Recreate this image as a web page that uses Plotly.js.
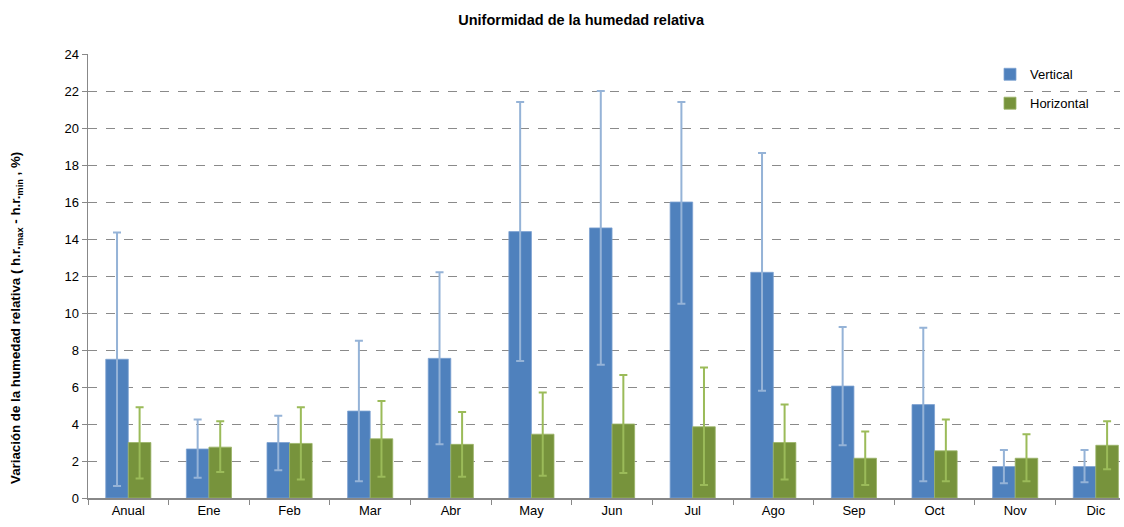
<!DOCTYPE html>
<html>
<head>
<meta charset="utf-8">
<script src="https://cdn.plot.ly/plotly-3.0.1.min.js"></script>
<style>html,body{margin:0;padding:0;background:#fff;}#chart{width:1124px;height:527px;}</style>
</head>
<body>
<div id="chart"></div>
<script>
const categories = ["Anual","Ene","Feb","Mar","Abr","May","Jun","Jul","Ago","Sep","Oct","Nov","Dic"];
const verticalValues = [7.5, 2.65, 3.0, 4.7, 7.55, 14.4, 14.6, 16.0, 12.2, 6.05, 5.05, 1.7, 1.7];
const verticalUpper  = [14.35, 4.25, 4.45, 8.5, 12.2, 21.4, 22.0, 21.4, 18.65, 9.25, 9.2, 2.6, 2.6];
const verticalLower  = [0.65, 1.1, 1.5, 0.9, 2.9, 7.4, 7.2, 10.5, 5.8, 2.85, 0.9, 0.8, 0.85];
const horizontalValues = [3.0, 2.75, 2.95, 3.2, 2.9, 3.45, 4.0, 3.85, 3.0, 2.15, 2.55, 2.15, 2.85];
const horizontalUpper  = [4.9, 4.15, 4.9, 5.25, 4.65, 5.7, 6.65, 7.05, 5.05, 3.6, 4.25, 3.45, 4.15];
const horizontalLower  = [1.05, 1.4, 1.0, 1.15, 1.15, 1.2, 1.35, 0.7, 1.0, 0.7, 0.9, 0.9, 1.55];
const yTitle = "<b>Variación de la humedad relativa ( h.r.<sub>max</sub> - h.r.<sub>min</sub> , %)</b>";

const plus = (u, v) => u.map((x, i) => x - v[i]);
const minus = (l, v) => v.map((x, i) => x - l[i]);

const traces = [
  {
    type: "bar", name: "Vertical", x: categories, y: verticalValues,
    legendgroup: "v",
    marker: {color: "#4F81BD", line: {color: "#7EA2D2", width: 0.8}},
    error_y: {type: "data", symmetric: false, array: plus(verticalUpper, verticalValues),
      arrayminus: minus(verticalLower, verticalValues), color: "#95B3D7", thickness: 2, width: 4}
  },
  {
    type: "bar", name: "Horizontal", x: categories, y: horizontalValues,
    legendgroup: "h",
    marker: {color: "#77933C", line: {color: "#9BB467", width: 0.8}},
    error_y: {type: "data", symmetric: false, array: plus(horizontalUpper, horizontalValues),
      arrayminus: minus(horizontalLower, horizontalValues), color: "#9BBB59", thickness: 2, width: 4}
  }
];

const layout = {
  width: 1124, height: 527,
  margin: {l: 88, r: 4, t: 54, b: 29, pad: 0},
  paper_bgcolor: "#fff", plot_bgcolor: "#fff",
  font: {family: "Liberation Sans, Arial, sans-serif", size: 13, color: "#000"},
  title: {text: "<b>Uniformidad de la humedad relativa</b>", x: 0.517, xref: "container", xanchor: "center",
    y: 0.962, yref: "container", yanchor: "middle", font: {size: 14.5, color: "#000"}},
  barmode: "group", bargap: 0.44, bargroupgap: 0,
  xaxis: {
    type: "category", range: [-0.5, 12.3], tickson: "boundaries",
    ticks: "outside", ticklen: 5, tickcolor: "#888", tickwidth: 1,
    showline: true, linecolor: "#888", linewidth: 1.5,
    showgrid: false, zeroline: false,
    tickfont: {size: 13, color: "#000"}, fixedrange: true
  },
  yaxis: {
    range: [0, 24], dtick: 2, tick0: 0,
    ticks: "outside", ticklen: 5, tickcolor: "#888", tickwidth: 1,
    showline: true, linecolor: "#888", linewidth: 1.5,
    showgrid: true, gridcolor: "#8a8a8a", griddash: "dash", gridwidth: 1,
    zeroline: false,
    tickfont: {size: 13, color: "#000"}
  },
  annotations: [{
    text: yTitle, textangle: -90, showarrow: false,
    xref: "paper", yref: "paper", x: (17 - 88) / 1032, y: (498 - 318) / 444,
    xanchor: "center", yanchor: "middle", font: {size: 13.3, color: "#000"}
  }],
  legend: {x: 0, xref: "paper", y: 0.988, yanchor: "top", bgcolor: "rgba(255,255,255,0)",
    font: {size: 13, color: "#000"}, tracegroupgap: 9, itemwidth: 30},
  showlegend: true
};
layout.legend.x = (990 - 88) / 1032;

Plotly.newPlot("chart", traces, layout, {displayModeBar: false, staticPlot: true});
</script>
</body>
</html>
